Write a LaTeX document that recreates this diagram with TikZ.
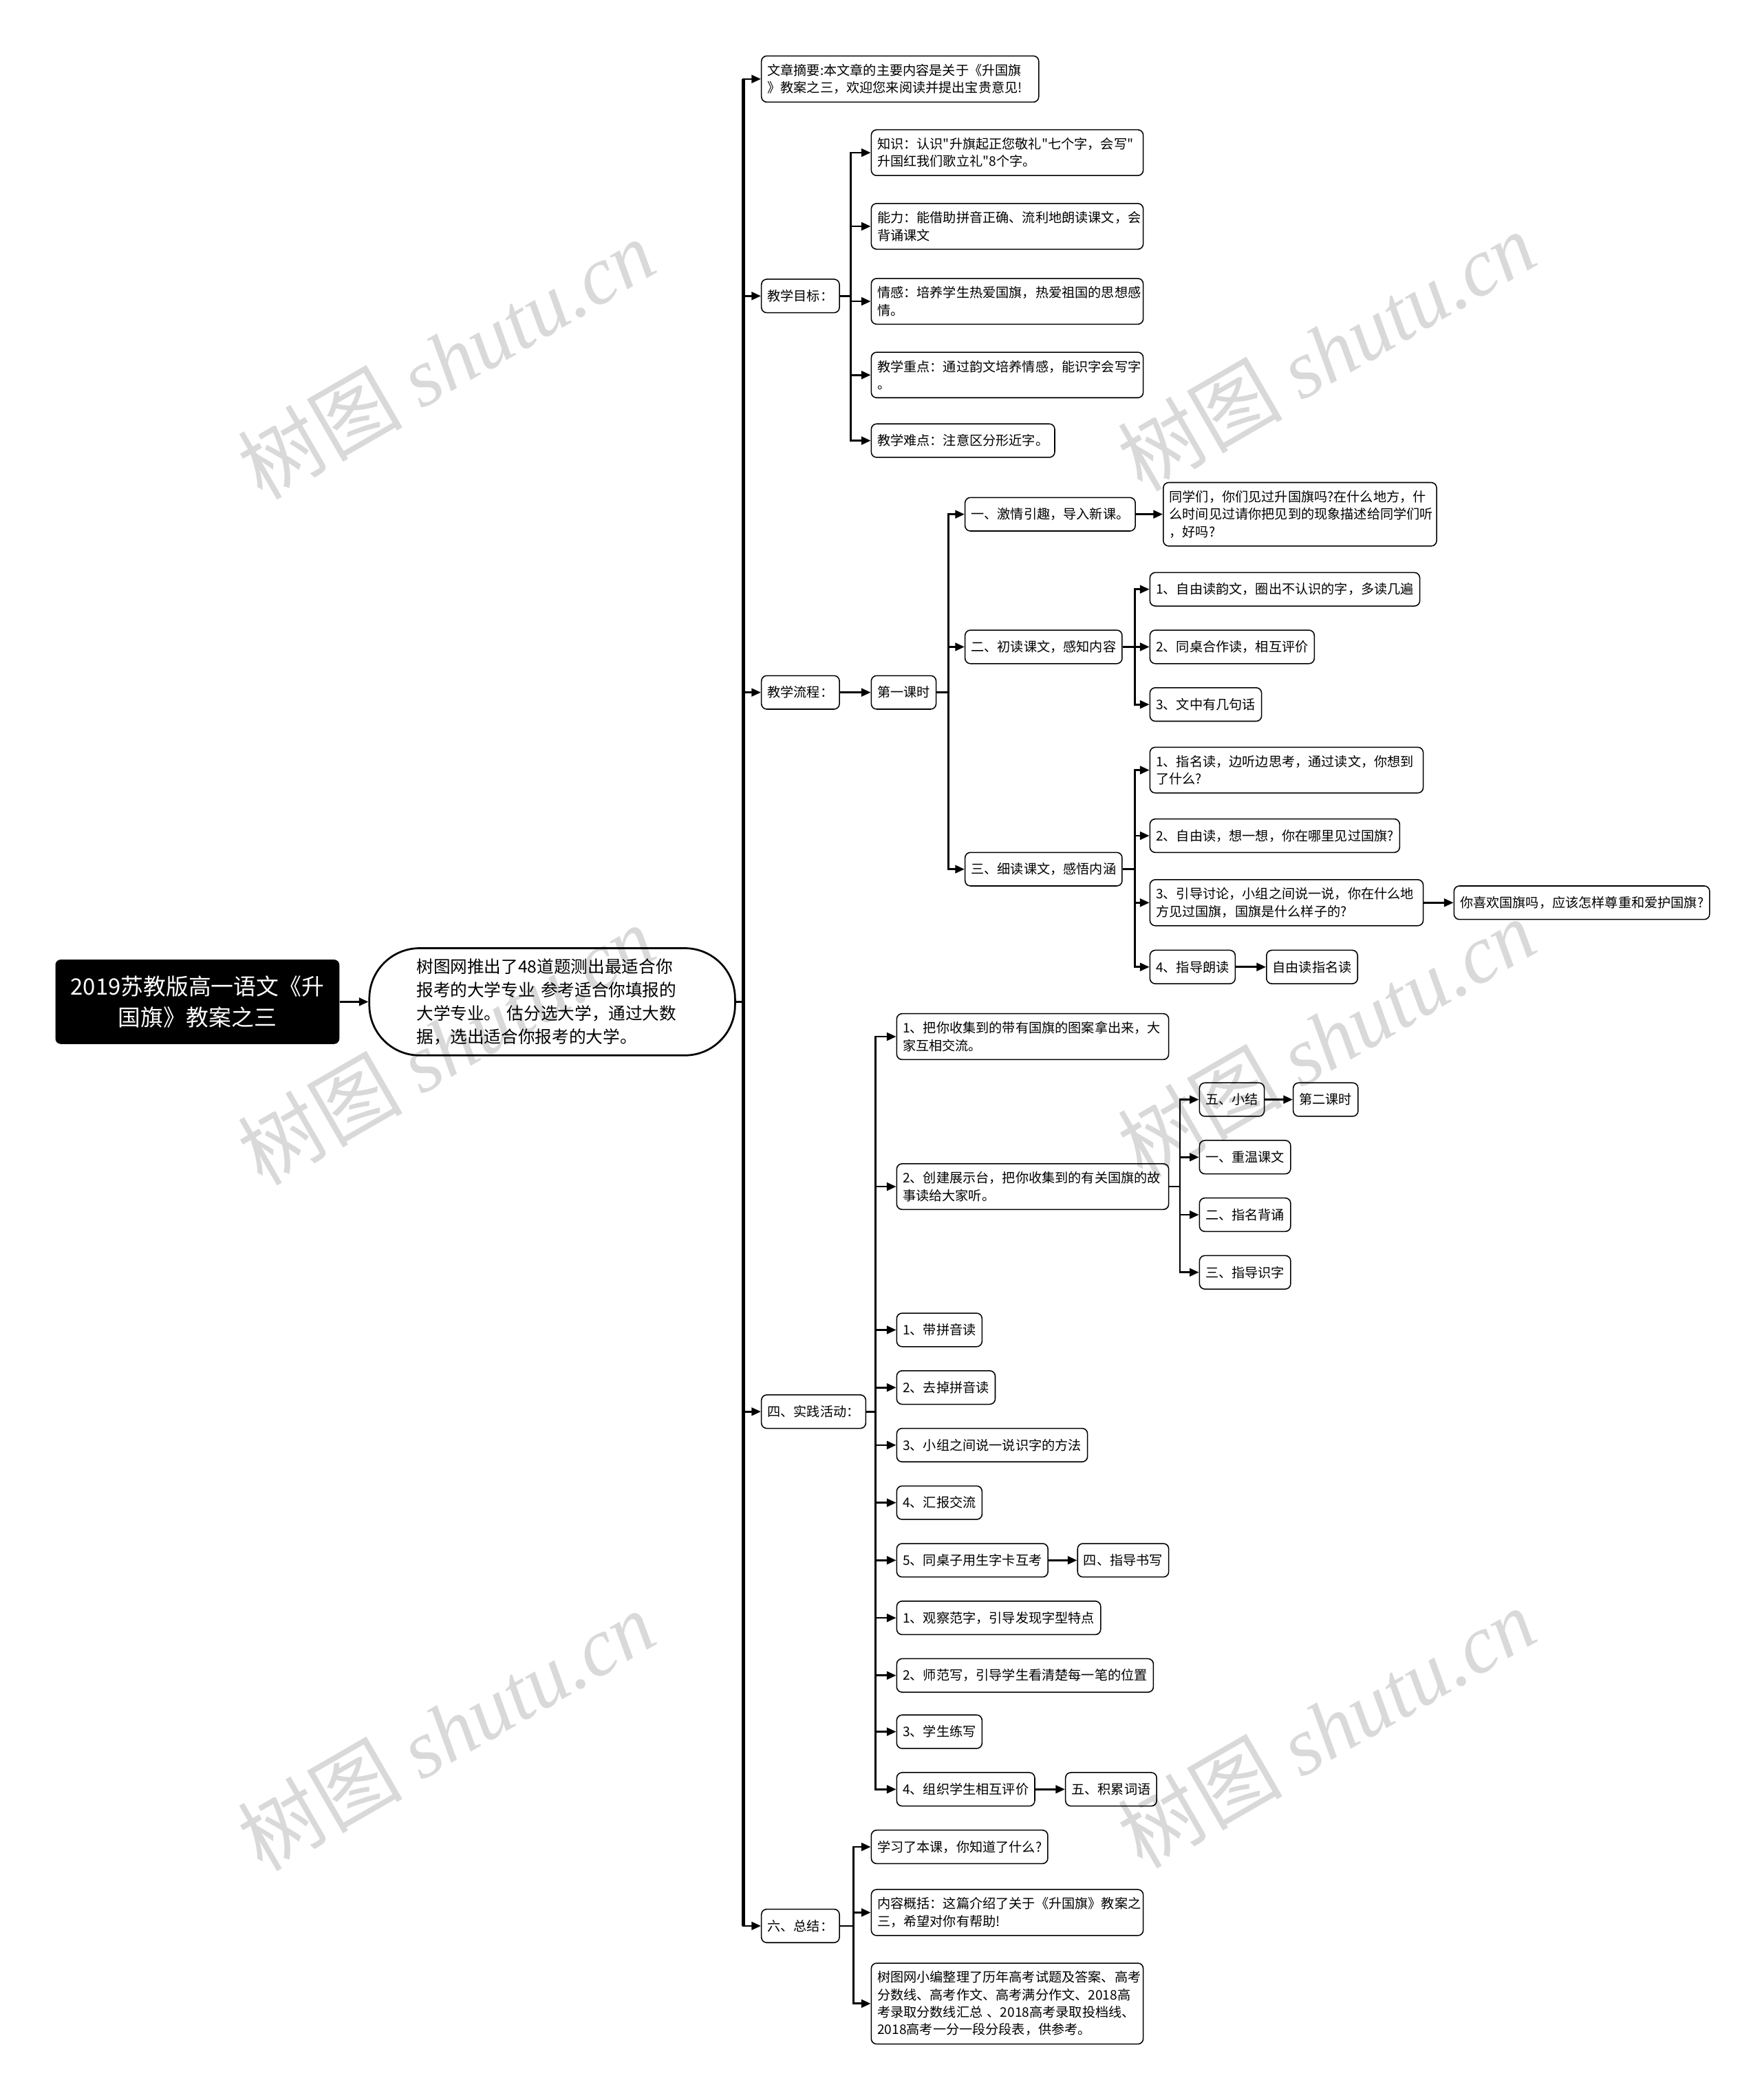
\documentclass[tikz,border=0pt]{standalone}
\usepackage{fontspec}
\setmainfont{Noto Sans CJK SC}[Ligatures=TeXOff]
\newfontfamily\wmlatin{Liberation Serif}
\usetikzlibrary{arrows.meta}
\tikzset{
  box/.style    = {rectangle, rounded corners=0.8mm, draw, line width=0.45pt, align=left,
                   font=\fontsize{5.6}{7.4}\selectfont, inner xsep=0.9mm, inner ysep=1.2mm,
                   minimum height=5mm, anchor=west},
  wbox/.style   = {box, text width=#1},
  topic/.style  = {rectangle, rounded corners=0.8mm, fill=black, text=white, align=center,
                   font=\fontsize{9.6}{13}\selectfont, minimum width=42.4mm,
                   minimum height=12.6mm, anchor=west},
  summ/.style   = {rectangle, rounded corners=7.5mm, draw, line width=0.8pt, text width=40.5mm,
                   align=left, font=\fontsize{7.2}{9.9}\selectfont, minimum width=54.6mm,
                   minimum height=16mm, inner ysep=1mm, anchor=west},
  flow/.style   = {-{Triangle[length=1.4mm,width=1.2mm]}, line width=0.8pt},
  trunk/.style  = {line width=1.4pt},
  wmark/.style  = {text=black!15, rotate=30, font=\fontsize{35}{35}\selectfont},
}

\begin{document}
\begin{tikzpicture}[x=0.2mm, y=-0.2mm]
  \useasboundingbox (0,0) rectangle (1315,1568);

  % watermarks
  \foreach \wx/\wy [count=\i] in {333/268, 990/262, 333/780, 990/775, 333/1292, 990/1290}
    \node[wmark] (wm\i) at (\wx,\wy) {树图 {\wmlatin\itshape shutu.cn}};

  % root and summary
  \node[topic] (root) at (41,748) {2019苏教版高一语文《升\\国旗》教案之三};
  \node[summ] (summ) at (275,748) {树图网推出了48道题测出最适合你\\报考的大学专业 参考适合你填报的\\大学专业。 估分选大学，通过大数\\据，选出适合你报考的大学。};
  \coordinate (tr) at (555,748);

  % first level
  \node[wbox=39.6mm] (abs) at (568,59) {文章摘要:本文章的主要内容是关于《升国旗\\》教案之三，欢迎您来阅读并提出宝贵意见!};
  \node[box] (goal) at (568,221) {教学目标：};
  \node[box] (proc) at (568,517) {教学流程：};
  \node[box] (act) at (568,1054) {四、实践活动：};
  \node[box] (sumup) at (568,1438) {六、总结：};

  % teaching goals
  \node[wbox=38.8mm] (g1) at (650,114) {知识：认识"升旗起正您敬礼"七个字，会写"\\升国红我们歌立礼"8个字。};
  \node[wbox=38.8mm] (g2) at (650,169) {能力：能借助拼音正确、流利地朗读课文，会\\背诵课文};
  \node[wbox=38.8mm] (g3) at (650,225) {情感：培养学生热爱国旗，热爱祖国的思想感\\情。};
  \node[wbox=38.8mm] (g4) at (650,280) {教学重点：通过韵文培养情感，能识字会写字\\。};
  \node[box] (g5) at (650,329) {教学难点：注意区分形近字。};

  % teaching process
  \node[box] (les1) at (650,517) {第一课时};
  \node[box] (s1) at (720,384) {一、激情引趣，导入新课。};
  \node[wbox=39mm] (s1a) at (868,384) {同学们，你们见过升国旗吗?在什么地方，什\\么时间见过请你把见到的现象描述给同学们听\\，好吗?};
  \node[box] (s2) at (720,483) {二、初读课文，感知内容};
  \node[box] (s2a) at (858,440) {1、自由读韵文，圈出不认识的字，多读几遍};
  \node[box] (s2b) at (858,483) {2、同桌合作读，相互评价};
  \node[box] (s2c) at (858,526) {3、文中有几句话};
  \node[box] (s3) at (720,649) {三、细读课文，感悟内涵};
  \node[wbox=39mm] (s3a) at (858,575) {1、指名读，边听边思考，通过读文，你想到\\了什么?};
  \node[box] (s3b) at (858,624) {2、自由读，想一想，你在哪里见过国旗?};
  \node[wbox=39mm] (s3c) at (858,674) {3、引导讨论，小组之间说一说，你在什么地\\方见过国旗，国旗是什么样子的?};
  \node[box] (s3c1) at (1085,674) {你喜欢国旗吗，应该怎样尊重和爱护国旗?};
  \node[box] (s3d) at (858,722) {4、指导朗读};
  \node[box] (s3d1) at (945,722) {自由读指名读};

  % practice
  \node[wbox=38.8mm] (a1) at (669,774) {1、把你收集到的带有国旗的图案拿出来，大\\家互相交流。};
  \node[wbox=38.8mm] (a2) at (669,886) {2、创建展示台，把你收集到的有关国旗的故\\事读给大家听。};
  \node[box] (a2a) at (895,821) {五、小结};
  \node[box] (a2a1) at (965,821) {第二课时};
  \node[box] (a2b) at (895,864) {一、重温课文};
  \node[box] (a2c) at (895,907) {二、指名背诵};
  \node[box] (a2d) at (895,950) {三、指导识字};
  \node[box] (a3) at (669,993) {1、带拼音读};
  \node[box] (a4) at (669,1036) {2、去掉拼音读};
  \node[box] (a5) at (669,1079) {3、小组之间说一说识字的方法};
  \node[box] (a6) at (669,1122) {4、汇报交流};
  \node[box] (a7) at (669,1165) {5、同桌子用生字卡互考};
  \node[box] (a7a) at (804,1165) {四、指导书写};
  \node[box] (a8) at (669,1208) {1、观察范字，引导发现字型特点};
  \node[box] (a9) at (669,1251) {2、师范写，引导学生看清楚每一笔的位置};
  \node[box] (a10) at (669,1293) {3、学生练写};
  \node[box] (a11) at (669,1336) {4、组织学生相互评价};
  \node[box] (a11a) at (795,1336) {五、积累词语};

  % summary
  \node[box] (e1) at (650,1379) {学习了本课，你知道了什么?};
  \node[wbox=38.8mm] (e2) at (650,1428) {内容概括：这篇介绍了关于《升国旗》教案之\\三，希望对你有帮助!};
  \node[wbox=38.8mm] (e3) at (650,1496) {树图网小编整理了历年高考试题及答案、高考\\分数线、高考作文、高考满分作文、2018高\\考录取分数线汇总 、2018高考录取投档线、\\2018高考一分一段分段表，供参考。};

  % connectors
  \draw[flow] (root) -- (summ);
  \draw[trunk] (tr |- abs.west) -- (tr |- sumup.west);
  \draw[line width=0.8pt] (summ.east) -- (tr);
  \foreach \c in {abs,goal,proc,act,sumup}
    \draw[flow] (tr) |- (\c.west);
  \foreach \c in {g1,g2,g3,g4,g5}
    \draw[flow] (goal.east) -- ++(8,0) |- (\c.west);
  \draw[flow] (proc) -- (les1);
  \foreach \c in {s1,s2,s3}
    \draw[flow] (les1.east) -- ++(9,0) |- (\c.west);
  \draw[flow] (s1) -- (s1a);
  \foreach \c in {s2a,s2b,s2c}
    \draw[flow] (s2.east) -- ++(9,0) |- (\c.west);
  \foreach \c in {s3a,s3b,s3c,s3d}
    \draw[flow] (s3.east) -- ++(9,0) |- (\c.west);
  \draw[flow] (s3c) -- (s3c1);
  \draw[flow] (s3d) -- (s3d1);
  \foreach \c in {a1,a2,a3,a4,a5,a6,a7,a8,a9,a10,a11}
    \draw[flow] (act.east) -- ++(7,0) |- (\c.west);
  \foreach \c in {a2a,a2b,a2c,a2d}
    \draw[flow] (a2.east) -- ++(8,0) |- (\c.west);
  \draw[flow] (a2a) -- (a2a1);
  \draw[flow] (a7) -- (a7a);
  \draw[flow] (a11) -- (a11a);
  \foreach \c in {e1,e2,e3}
    \draw[flow] (sumup.east) -- ++(10,0) |- (\c.west);
\end{tikzpicture}
\end{document}
